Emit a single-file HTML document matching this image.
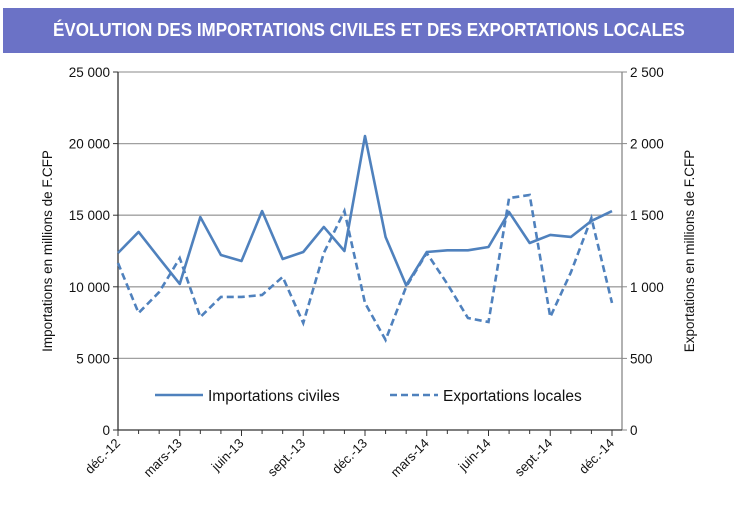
<!DOCTYPE html>
<html><head><meta charset="utf-8"><style>
body{margin:0;background:#fff;width:749px;height:505px;overflow:hidden;font-family:"Liberation Sans",sans-serif}
#title{position:absolute;left:3px;top:8px;width:731px;height:45px;background:#6b72c6;color:#fff;font-size:18px;font-weight:bold;line-height:45px;text-align:center}
#title span{display:inline-block;white-space:nowrap;transform-origin:center}
</style></head><body>
<div id="title"><span id="tt">ÉVOLUTION DES IMPORTATIONS CIVILES ET DES EXPORTATIONS LOCALES</span></div>
<svg id="c" width="749" height="505" style="position:absolute;left:0;top:0"></svg>
<script>
const tt=document.getElementById('tt');tt.style.transform='scaleX('+(632/tt.offsetWidth)+')';
const months=['déc.-12','janv.-13','févr.-13','mars-13','avr.-13','mai-13','juin-13','juil.-13','août-13','sept.-13','oct.-13','nov.-13','déc.-13','janv.-14','févr.-14','mars-14','avr.-14','mai-14','juin-14','juil.-14','août-14','sept.-14','oct.-14','nov.-14','déc.-14'];
const imports=[12360,13830,12000,10200,14870,12220,11800,15290,11940,12430,14180,12500,20530,13480,10100,12430,12550,12550,12780,15220,13060,13620,13480,14600,15290];
const exportsL=[1166,817,963,1200,789,929,929,943,1069,747,1236,1529,887,629,1000,1236,1020,782,754,1620,1641,789,1100,1480,887];
const leftTicks=[0,5000,10000,15000,20000,25000];
const leftLabels=['0','5 000','10 000','15 000','20 000','25 000'];
const rightLabels=['0','500','1 000','1 500','2 000','2 500'];
const xLabelIdx=[0,3,6,9,12,15,18,21,24];
const NS='http://www.w3.org/2000/svg';
const svg=document.getElementById('c');
const x0=118,x1=612,xr=622,yb=430,yt=72;
const x=i=>x0+(x1-x0)*i/(months.length-1);
const yL=v=>yb-(yb-yt)*v/25000;
const yR=v=>yb-(yb-yt)*v/2500;
function el(t,a,txt){const e=document.createElementNS(NS,t);for(const k in a)e.setAttribute(k,a[k]);if(txt!=null)e.textContent=txt;svg.appendChild(e);return e;}
leftTicks.forEach((v,i)=>{
 if(v>0){const g=el('line',{x1:x0,x2:xr,y1:yL(v),y2:yL(v),stroke:'#a0a0a0','stroke-width':1.3});
 
 }
 const t=el('text',{x:x0-8,y:yL(v)+5,'text-anchor':'end','font-size':13.5,fill:'#111'},leftLabels[i]);
 
 
 const r=el('text',{x:xr+8,y:yL(v)+5,'font-size':13.5,fill:'#111'},rightLabels[i]);
 
 
 el('line',{x1:x0-5,x2:x0,y1:yL(v),y2:yL(v),stroke:'#333'});
 el('line',{x1:xr,x2:xr+5,y1:yL(v),y2:yL(v),stroke:'#888'});
});
el('line',{x1:x0,x2:x0,y1:yt,y2:yb,stroke:'#333','stroke-width':1.3});
el('line',{x1:xr,x2:xr,y1:yt,y2:yb,stroke:'#888','stroke-width':1.3});
el('line',{x1:x0,x2:xr,y1:yb,y2:yb,stroke:'#333','stroke-width':1.3});
months.forEach((m,i)=>{
 const major=xLabelIdx.includes(i);
 el('line',{x1:x(i),x2:x(i),y1:yb,y2:yb+(major?6:4),stroke:'#333'});
 if(major){const t=el('text',{x:x(i)+3,y:yb+14,'text-anchor':'end','font-size':13,fill:'#111',transform:`rotate(-45 ${x(i)+3} ${yb+14})`},m);
 
 }
});
const l1=el('path',{d:imports.map((v,i)=>(i?'L':'M')+x(i)+','+yL(v)).join(''),fill:'none',stroke:'#4f81bd','stroke-width':2.6,'stroke-linejoin':'round'});


const l2=el('path',{d:exportsL.map((v,i)=>(i?'L':'M')+x(i)+','+yR(v)).join(''),fill:'none',stroke:'#4f81bd','stroke-width':2.6,'stroke-dasharray':'7,4'});


el('line',{x1:155,x2:203,y1:395,y2:395,stroke:'#4f81bd','stroke-width':2.6});
el('text',{x:208,y:401,'font-size':15.5,fill:'#111'},'Importations civiles');
el('line',{x1:390,x2:438,y1:395,y2:395,stroke:'#4f81bd','stroke-width':2.6,'stroke-dasharray':'7,4'});
el('text',{x:443,y:401,'font-size':15.5,fill:'#111'},'Exportations locales');
el('text',{x:52,y:251,'text-anchor':'middle','font-size':13.5,fill:'#111',transform:'rotate(-90 52 251)'},'Importations en millions de F.CFP');
el('text',{x:694,y:251,'text-anchor':'middle','font-size':13.5,fill:'#111',transform:'rotate(-90 694 251)'},'Exportations en millions de F.CFP');
</script>
</body></html>
